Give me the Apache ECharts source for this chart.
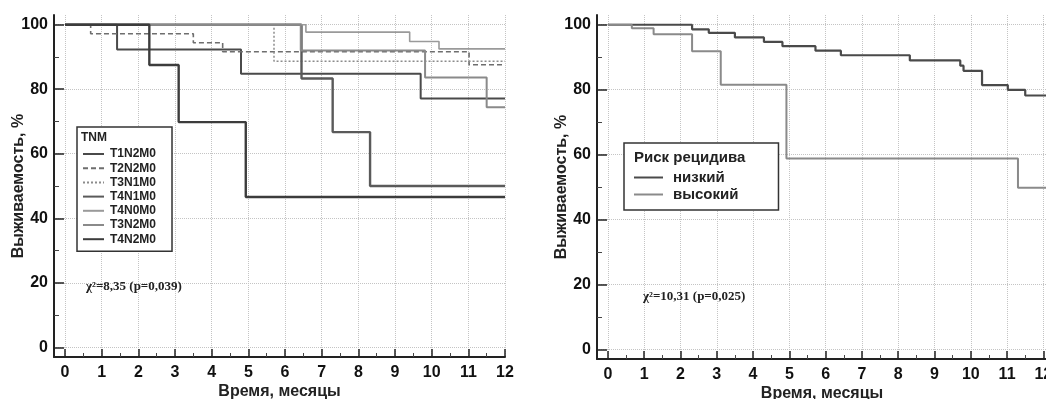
<!DOCTYPE html>
<html><head><meta charset="utf-8">
<script src="https://cdn.jsdelivr.net/npm/echarts@6/dist/echarts.min.js"></script>
<style>html,body{margin:0;padding:0;background:#fff}#c{width:1046px;height:399px}</style>
</head><body><div id="c"></div>
<script>
// ---- data ----
const monthTicks = [0,1,2,3,4,5,6,7,8,9,10,11,12];
const pctTicks = [0,20,40,60,80,100];
const xTitle = 'Время, месяцы';
const yTitle = 'Выживаемость, %';

const tnmNames = ['T1N2M0','T2N2M0','T3N1M0','T4N1M0','T4N0M0','T3N2M0','T4N2M0'];
const tT1N2M0 = [0, 1.42, 4.8, 9.7, 12];        const sT1N2M0 = [100, 92.3, 84.8, 77.1, 77.1];
const tT2N2M0 = [0, 0.7, 3.5, 4.3, 11.02, 12];  const sT2N2M0 = [100, 97.2, 94.4, 91.6, 87.6, 87.6];
const tT3N1M0 = [0, 5.7, 12];                   const sT3N1M0 = [100, 88.7, 88.7];
const tT4N1M0 = [0, 6.45, 7.3, 8.32, 12];       const sT4N1M0 = [100, 83.3, 66.7, 50, 50];
const tT4N0M0 = [0, 6.57, 9.4, 10.2, 12];       const sT4N0M0 = [100, 97.7, 94.8, 92.5, 92.5];
const tT3N2M0 = [0, 6.43, 9.82, 11.5, 12];      const sT3N2M0 = [100, 92.0, 83.6, 74.4, 74.4];
const tT4N2M0 = [0, 2.3, 3.1, 4.93, 12];        const sT4N2M0 = [100, 87.5, 69.8, 46.6, 46.6];

const riskNames = ['низкий','высокий'];
const tLow  = [0, 2.32, 2.78, 3.5, 4.3, 4.81, 5.72, 6.42, 8.32, 9.71, 9.8, 10.31, 11.02, 11.5, 12.1];
const sLow  = [100, 98.6, 97.5, 96.1, 94.7, 93.4, 92.0, 90.6, 89.0, 87.4, 85.8, 81.4, 79.9, 78.2, 78.2];
const tHigh = [0, 0.66, 1.26, 2.32, 3.11, 4.92, 11.3, 12.1];
const sHigh = [100, 98.9, 97.1, 91.8, 81.5, 58.8, 49.8, 49.8];

const chiLeft = 'χ²=8,35 (p=0,039)';
const chiRight = 'χ²=10,31 (p=0,025)';
const legendLeftTitle = 'TNM';
const legendRightTitle = 'Риск рецидива';

// ---- chart ----
const FF = '"Liberation Sans", Arial, sans-serif';
const zip = (t, s) => t.map((v, i) => [v, s[i]]);

function xAx(gi, max) {
  return {
    type: 'value', gridIndex: gi, min: -0.3, max: max, splitNumber: 12,
    name: xTitle, nameLocation: 'middle', nameGap: 27, nameMoveOverlap: false,
    nameTextStyle: {fontFamily: FF, fontWeight: 'bold', fontSize: 16, color: '#222'},
    axisLine: {show: true, onZero: false, lineStyle: {color: '#222', width: 2}},
    axisTick: {show: true, inside: true, length: 8, customValues: monthTicks, lineStyle: {color: '#222', width: 1.5}},
    minorTick: {show: true, splitNumber: 2, length: 4, lineStyle: {color: '#444', width: 1}},
    axisLabel: {customValues: monthTicks, fontFamily: FF, fontWeight: 'bold', fontSize: 16, color: '#111', margin: 8},
    splitLine: {show: true, lineStyle: {color: '#c4c4c4', type: 'dotted', width: 1}}
  };
}
function yAx(gi) {
  return {
    type: 'value', gridIndex: gi, min: -3, max: 103, splitNumber: 5,
    name: yTitle, nameLocation: 'middle', nameGap: 27, nameRotate: 90, nameMoveOverlap: false,
    nameTextStyle: {fontFamily: FF, fontWeight: 'bold', fontSize: 16, color: '#222'},
    axisLine: {show: true, onZero: false, lineStyle: {color: '#222', width: 2}},
    axisTick: {show: true, inside: true, length: 10, customValues: pctTicks, lineStyle: {color: '#222', width: 1.5}},
    minorTick: {show: true, splitNumber: 2, length: 5, lineStyle: {color: '#444', width: 1}},
    axisLabel: {customValues: pctTicks, fontFamily: FF, fontWeight: 'bold', fontSize: 16, color: '#111', margin: 6},
    splitLine: {show: true, lineStyle: {color: '#c4c4c4', type: 'dotted', width: 1}}
  };
}
function ser(name, t, s, gi, color, width, type) {
  return {
    name: name, type: 'line', xAxisIndex: gi, yAxisIndex: gi, step: 'end',
    symbol: 'none', data: zip(t, s), animation: false,
    lineStyle: {color: color, width: width, type: type || 'solid'},
    itemStyle: {color: color, opacity: 0}
  };
}

const option = {
  backgroundColor: '#fff',
  animation: false,
  grid: [
    {left: 54, top: 15, width: 451, height: 342, outerBoundsMode: 'none', containLabel: false},
    {left: 597, top: 15, width: 450, height: 344, outerBoundsMode: 'none', containLabel: false}
  ],
  xAxis: [xAx(0, 12), xAx(1, 12.1)],
  yAxis: [yAx(0), yAx(1)],
  title: [
    {text: chiLeft, left: 86, top: 280, padding: 0, textStyle: {fontFamily: '"Liberation Serif", serif', fontWeight: 'bold', fontSize: 13, color: '#222'}},
    {text: chiRight, left: 643, top: 290, padding: 0, textStyle: {fontFamily: '"Liberation Serif", serif', fontWeight: 'bold', fontSize: 13, color: '#222'}},
    {text: legendLeftTitle, left: 81, top: 132, padding: 0, z: 20, textStyle: {fontFamily: FF, fontWeight: 'bold', fontSize: 12, color: '#222'}},
    {text: legendRightTitle, left: 634, top: 150, padding: 0, z: 20, textStyle: {fontFamily: FF, fontWeight: 'bold', fontSize: 15, color: '#222'}}
  ],
  legend: [
    {
      data: tnmNames, orient: 'vertical', left: 77, top: 127,
      itemWidth: 21, itemHeight: 10, itemGap: 2.2,
      padding: [21, 16, 6, 5],
      backgroundColor: '#fff', borderColor: '#333', borderWidth: 1.5,
      itemStyle: {opacity: 0},
      textStyle: {fontFamily: FF, fontWeight: 'bold', fontSize: 12, lineHeight: 10, color: '#222', padding: [0, 0, 0, 1]}
    },
    {
      data: riskNames, orient: 'vertical', left: 624, top: 143,
      itemWidth: 29, itemHeight: 14, itemGap: 2,
      padding: [27, 40, 8, 9],
      backgroundColor: '#fff', borderColor: '#333', borderWidth: 1.5,
      itemStyle: {opacity: 0},
      textStyle: {fontFamily: FF, fontWeight: 'bold', fontSize: 15, lineHeight: 14, color: '#222', padding: [0, 0, 0, 5]}
    }
  ],
  series: [
    ser('T1N2M0', tT1N2M0, sT1N2M0, 0, '#4a4a4a', 2),
    ser('T2N2M0', tT2N2M0, sT2N2M0, 0, '#6e6e6e', 1.6, [5, 3]),
    ser('T3N1M0', tT3N1M0, sT3N1M0, 0, '#8c8c8c', 1.5, [2, 2]),
    ser('T4N1M0', tT4N1M0, sT4N1M0, 0, '#5a5a5a', 2.4),
    ser('T4N0M0', tT4N0M0, sT4N0M0, 0, '#9a9a9a', 1.6),
    ser('T3N2M0', tT3N2M0, sT3N2M0, 0, '#8a8a8a', 2),
    ser('T4N2M0', tT4N2M0, sT4N2M0, 0, '#3c3c3c', 2.4),
    ser('низкий', tLow, sLow, 1, '#4a4a4a', 2.2),
    ser('высокий', tHigh, sHigh, 1, '#8a8a8a', 2)
  ]
};
const chart = echarts.init(document.getElementById('c'), null, {renderer: 'canvas'});
chart.setOption(option);
</script></body></html>
